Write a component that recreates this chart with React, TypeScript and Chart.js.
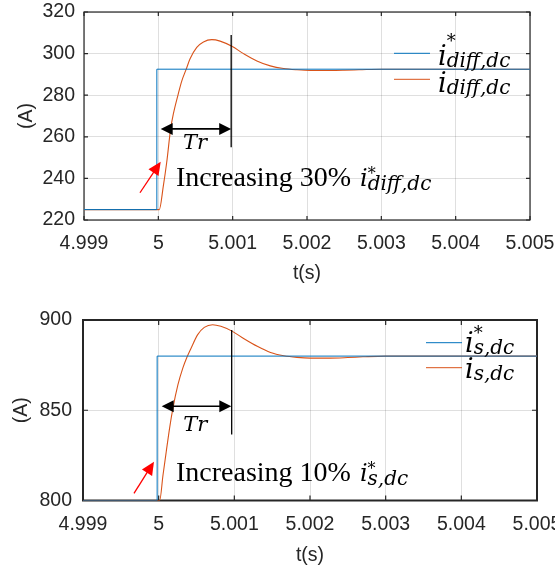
import React, { useEffect, useRef } from "react";
import { Chart, registerables } from "chart.js";

Chart.register(...registerables);

// ---------------- data ----------------
const xTickValues = [4.999, 5.0, 5.001, 5.002, 5.003, 5.004, 5.005];
const xTickLabels = ["4.999", "5", "5.001", "5.002", "5.003", "5.004", "5.005"];

const topYTickValues = [220, 240, 260, 280, 300, 320];
const botYTickValues = [800, 850, 900];

const topRefTime = [4.999, 4.99998, 4.99998, 5.005];
const topRefValue = [225, 225, 292.5, 292.5];
const topRespTime = [4.999, 5.0, 5.000013, 5.000067, 5.000112, 5.000166, 5.000202, 5.00027, 5.000315, 5.000373, 5.000427, 5.000517, 5.000607, 5.000719, 5.000831, 5.000989, 5.001146, 5.001326, 5.001506, 5.001685, 5.001865, 5.002045, 5.002315, 5.0025, 5.0027, 5.003, 5.005];
const topRespValue = [225, 225, 225, 236.3, 247.5, 263.9, 271.0, 280.9, 286.8, 292.3, 297.5, 303.0, 305.6, 306.7, 306.0, 303.5, 300.0, 296.5, 294.1, 292.8, 292.2, 291.9, 291.9, 292.0, 292.2, 292.5, 292.5];

const botRefTime = [4.999, 4.99998, 4.99998, 5.005];
const botRefValue = [800, 800, 880, 880];
const botRespTime = [4.999, 5.0, 5.000013, 5.000057, 5.0001, 5.000144, 5.000188, 5.000254, 5.000319, 5.000376, 5.000428, 5.000516, 5.000603, 5.000713, 5.000822, 5.000975, 5.001128, 5.001303, 5.001478, 5.001653, 5.001828, 5.002003, 5.002265, 5.0025, 5.0027, 5.003, 5.005];
const botRespValue = [800, 800, 800, 814, 827, 840, 851, 864, 873.3, 879.6, 884.4, 891.9, 895.9, 897.4, 896.5, 893.7, 889.6, 885.4, 882.0, 880.2, 879.3, 878.9, 878.9, 879.2, 879.6, 880, 880];

// ---------------- styles ----------------
const BLUE = "#0072BD";
const ORANGE = "#D95319";
const AXIS = "#262626";
const GRID = "rgba(38,38,38,0.15)";
const SANS = "'Liberation Sans', Arial, sans-serif";
const SERIF = "'Liberation Serif', 'Times New Roman', serif";
const MATH = "'DejaVu Serif', serif";

type Panel = {
  id: string;
  width: number;
  height: number;
  pageTop: number;
  refTime: number[];
  refValue: number[];
  respTime: number[];
  respValue: number[];
  yMin: number;
  yMax: number;
  yTicks: number[];
  sub: string;
  text: string;
  pad: { left: number; right: number; top: number };
  yAxisWidth: number;
  xAxisHeight: number;
  yTickPad: number;
  yTitlePad: number;
  xTitlePad: number;
  frameWidth: number;
  tickLen: number;
  vline: { t: number; v1: number; v2: number };
  darrow: { t1: number; t2: number; v: number };
  tr: { t: number; v: number };
  label: { t: number; v: number };
  red: { t1: number; v1: number; t2: number; v2: number };
  legend: {
    lineX1: number; lineX2: number; textX: number;
    line1: number; base1: number; line2: number; base2: number;
    starRise: number;
  };
};

const panels: Panel[] = [
  {
    id: "top",
    width: 555,
    height: 290,
    pageTop: 0,
    refTime: topRefTime,
    refValue: topRefValue,
    respTime: topRespTime,
    respValue: topRespValue,
    yMin: 220,
    yMax: 320,
    yTicks: topYTickValues,
    sub: "diff,dc",
    text: "Increasing 30% ",
    pad: { left: 0, right: 25, top: 12 },
    yAxisWidth: 84,
    xAxisHeight: 70,
    yTickPad: 9,
    yTitlePad: 15,
    xTitlePad: 5,
    frameWidth: 1.2,
    tickLen: 4,
    vline: { t: 5.00098, v1: 308.9, v2: 255 },
    darrow: { t1: 5.000032, t2: 5.00098, v: 263.8 },
    tr: { t: 5.000332, v: 254.2 },
    label: { t: 5.000238, v: 236.3 },
    red: { t1: 4.999753, v1: 233.1, t2: 5.000032, v2: 248.0 },
    legend: { lineX1: -136, lineX2: -100, textX: -92, line1: 41.3, base1: 53, line2: 67.3, base2: 79.5, starRise: 18 },
  },
  {
    id: "bot",
    width: 555,
    height: 281,
    pageTop: 290,
    refTime: botRefTime,
    refValue: botRefValue,
    respTime: botRespTime,
    respValue: botRespValue,
    yMin: 800,
    yMax: 900,
    yTicks: botYTickValues,
    sub: "s,dc",
    text: "Increasing 10% ",
    pad: { left: 0, right: 18, top: 30 },
    yAxisWidth: 83,
    xAxisHeight: 70.5,
    yTickPad: 11,
    yTitlePad: 10,
    xTitlePad: 4,
    frameWidth: 2,
    tickLen: 5,
    vline: { t: 5.000965, v1: 894.5, v2: 836.5 },
    darrow: { t1: 5.00004, t2: 5.00096, v: 852.2 },
    tr: { t: 5.000325, v: 838.3 },
    label: { t: 5.000229, v: 811 },
    red: { t1: 4.999674, v1: 804, t2: 4.999938, v2: 821.5 },
    legend: { lineX1: -111, lineX2: -75, textX: -72, line1: 22.7, base1: 32, line2: 47.7, base2: 58, starRise: 13 },
  },
];

function arrowHead(ctx: CanvasRenderingContext2D, x1: number, y1: number, x2: number, y2: number, len: number, half: number) {
  const ang = Math.atan2(y2 - y1, x2 - x1);
  const bx = x2 - len * Math.cos(ang);
  const by = y2 - len * Math.sin(ang);
  const nx = -Math.sin(ang);
  const ny = Math.cos(ang);
  ctx.beginPath();
  ctx.moveTo(x2, y2);
  ctx.lineTo(bx + nx * half, by + ny * half);
  ctx.lineTo(bx - nx * half, by - ny * half);
  ctx.closePath();
  ctx.fill();
}

function drawMath(
  ctx: CanvasRenderingContext2D,
  x: number,
  base: number,
  sub: string,
  star: boolean,
  mainSize: number,
  subSize: number,
  starSize: number,
  starRise: number,
  subDrop: number
) {
  ctx.textAlign = "left";
  ctx.textBaseline = "alphabetic";
  ctx.font = `italic ${mainSize}px ${MATH}`;
  ctx.fillText("i", x, base);
  const w = ctx.measureText("i").width;
  if (star) {
    ctx.font = `${starSize}px ${MATH}`;
    ctx.fillText("*", x + w, base - starRise);
  }
  ctx.font = `italic ${subSize}px ${MATH}`;
  ctx.fillText(sub, x + w, base + subDrop);
}

function panelPlugin(p: Panel) {
  return {
    id: "panel_" + p.id,
    beforeDatasetsDraw(chart: any) {
      const { ctx, chartArea: a, scales } = chart;
      ctx.save();
      ctx.strokeStyle = AXIS;
      ctx.lineWidth = p.frameWidth;
      ctx.strokeRect(a.left, a.top, a.right - a.left, a.bottom - a.top);
      ctx.lineWidth = 1.2;
      ctx.beginPath();
      for (const v of xTickValues) {
        const px = scales.x.getPixelForValue(v);
        ctx.moveTo(px, a.bottom);
        ctx.lineTo(px, a.bottom - p.tickLen);
        ctx.moveTo(px, a.top);
        ctx.lineTo(px, a.top + p.tickLen);
      }
      for (const v of p.yTicks) {
        const py = scales.y.getPixelForValue(v);
        ctx.moveTo(a.left, py);
        ctx.lineTo(a.left + p.tickLen, py);
        ctx.moveTo(a.right, py);
        ctx.lineTo(a.right - p.tickLen, py);
      }
      ctx.stroke();
      ctx.restore();
    },
    afterDatasetsDraw(chart: any) {
      const { ctx, chartArea: a, scales } = chart;
      const X = (t: number) => scales.x.getPixelForValue(t);
      const Y = (v: number) => scales.y.getPixelForValue(v);
      ctx.save();
      // vertical marker line
      ctx.strokeStyle = "#000";
      ctx.lineWidth = 1.3;
      ctx.beginPath();
      ctx.moveTo(X(p.vline.t), Y(p.vline.v1));
      ctx.lineTo(X(p.vline.t), Y(p.vline.v2));
      ctx.stroke();
      // double arrow
      const ax1 = X(p.darrow.t1);
      const ax2 = X(p.darrow.t2);
      const ay = Y(p.darrow.v);
      ctx.lineWidth = 1.6;
      ctx.strokeStyle = "#000";
      ctx.fillStyle = "#000";
      ctx.beginPath();
      ctx.moveTo(ax1 + 6, ay);
      ctx.lineTo(ax2 - 6, ay);
      ctx.stroke();
      arrowHead(ctx, ax2, ay, ax1, ay, 12, 6);
      arrowHead(ctx, ax1, ay, ax2, ay, 12, 6);
      // Tr
      ctx.fillStyle = "#000";
      ctx.font = `italic 21px ${MATH}`;
      ctx.textAlign = "left";
      ctx.textBaseline = "alphabetic";
      ctx.fillText("Tr", X(p.tr.t), Y(p.tr.v));
      // Increasing label
      const lx = X(p.label.t);
      const ly = Y(p.label.v);
      ctx.font = `28px ${SERIF}`;
      ctx.fillText(p.text, lx, ly);
      const tw = ctx.measureText(p.text).width;
      drawMath(ctx, lx + tw + 2, ly, p.sub, true, 24, 20, 16, 7, 4);
      // red arrow
      const rx1 = X(p.red.t1);
      const ry1 = Y(p.red.v1);
      const rx2 = X(p.red.t2);
      const ry2 = Y(p.red.v2);
      ctx.strokeStyle = "#FF0000";
      ctx.fillStyle = "#FF0000";
      ctx.lineWidth = 1.3;
      const ang = Math.atan2(ry2 - ry1, rx2 - rx1);
      ctx.beginPath();
      ctx.moveTo(rx1, ry1);
      ctx.lineTo(rx2 - 8 * Math.cos(ang), ry2 - 8 * Math.sin(ang));
      ctx.stroke();
      arrowHead(ctx, rx1, ry1, rx2, ry2, 13, 6);
      // legend
      const L = p.legend;
      ctx.lineWidth = 1;
      const entries = [
        { color: BLUE, y: L.line1, base: L.base1, star: true },
        { color: ORANGE, y: L.line2, base: L.base2, star: false },
      ];
      for (const e of entries) {
        ctx.strokeStyle = e.color;
        ctx.beginPath();
        ctx.moveTo(a.right + L.lineX1, a.top + e.y);
        ctx.lineTo(a.right + L.lineX2, a.top + e.y);
        ctx.stroke();
        ctx.fillStyle = "#000";
        drawMath(ctx, a.right + L.textX, a.top + e.base, p.sub, e.star, 27, 20, 18, L.starRise, 2);
      }
      ctx.restore();
    },
  };
}

function makeConfig(p: Panel): any {
  const tickFont = { family: SANS, size: 19.5 };
  return {
    type: "line",
    data: {
      datasets: [
        {
          label: "ref",
          data: p.refTime.map((t, i) => ({ x: t, y: p.refValue[i] })),
          borderColor: BLUE,
          borderWidth: 1,
          pointRadius: 0,
          tension: 0,
          fill: false,
        },
        {
          label: "resp",
          data: p.respTime.map((t, i) => ({ x: t, y: p.respValue[i] })),
          borderColor: ORANGE,
          borderWidth: 1.1,
          pointRadius: 0,
          cubicInterpolationMode: "monotone",
          fill: false,
        },
      ],
    },
    options: {
      responsive: false,
      animation: false,
      events: [],
      layout: { padding: { left: p.pad.left, right: p.pad.right, top: p.pad.top, bottom: 0 } },
      plugins: { legend: { display: false }, tooltip: { enabled: false }, title: { display: false } },
      scales: {
        x: {
          type: "linear",
          min: 4.999,
          max: 5.005,
          afterBuildTicks: (s: any) => {
            s.ticks = xTickValues.map((v) => ({ value: v }));
          },
          afterFit: (s: any) => {
            s.height = p.xAxisHeight;
            s.paddingLeft = 0;
            s.paddingRight = 0;
          },
          ticks: {
            callback: (_v: any, i: number) => xTickLabels[i],
            font: tickFont,
            color: AXIS,
            padding: 12,
            maxRotation: 0,
            autoSkip: false,
          },
          grid: { color: GRID, lineWidth: 1, drawTicks: false },
          border: { display: false },
          title: { display: true, text: "t(s)", font: tickFont, color: AXIS, padding: { top: 0, bottom: p.xTitlePad } },
        },
        y: {
          type: "linear",
          min: p.yMin,
          max: p.yMax,
          afterBuildTicks: (s: any) => {
            s.ticks = p.yTicks.map((v) => ({ value: v }));
          },
          afterFit: (s: any) => {
            s.width = p.yAxisWidth;
            s.paddingTop = 0;
            s.paddingBottom = 0;
          },
          ticks: {
            callback: (v: any) => String(v),
            font: tickFont,
            color: AXIS,
            padding: p.yTickPad,
            autoSkip: false,
          },
          grid: { color: GRID, lineWidth: 1, drawTicks: false },
          border: { display: false },
          title: { display: true, text: "(A)", font: tickFont, color: AXIS, padding: { top: p.yTitlePad, bottom: 0 } },
        },
      },
    },
    plugins: [panelPlugin(p)],
  };
}

function PanelChart({ p }: { p: Panel }) {
  const ref = useRef<HTMLCanvasElement | null>(null);
  useEffect(() => {
    if (!ref.current) return;
    const chart = new Chart(ref.current, makeConfig(p));
    return () => chart.destroy();
  }, [p]);
  return (
    <canvas
      ref={ref}
      width={p.width}
      height={p.height}
      style={{ position: "absolute", left: 0, top: p.pageTop, width: p.width, height: p.height, display: "block" }}
    />
  );
}

export default function App() {
  return (
    <div style={{ position: "absolute", left: 0, top: 0, width: 555, height: 571, background: "#fff", overflow: "hidden" }}>
      {panels.map((p) => (
        <PanelChart key={p.id} p={p} />
      ))}
    </div>
  );
}
